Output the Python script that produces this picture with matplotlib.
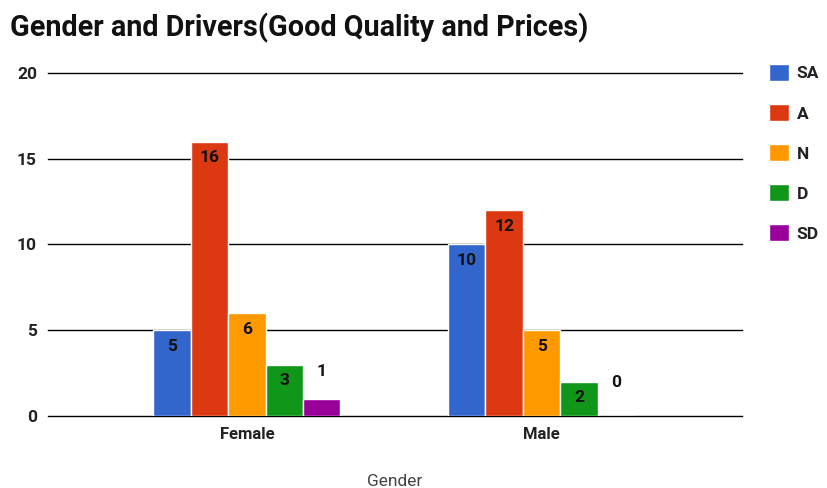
import matplotlib.pyplot as plt
import numpy as np

plt.rcParams['font.family'] = ['Roboto', 'DejaVu Sans']

# data
genders = ["Female", "Male"]
levels = ["SA", "A", "N", "D", "SD"]
sa = [5, 10]
a = [16, 12]
n = [6, 5]
d = [3, 2]
sd = [1, 0]
colors = ["#3366cc", "#dc3912", "#ff9900", "#109618", "#990099"]

series = [sa, a, n, d, sd]

fig = plt.figure(figsize=(8.27, 4.88), dpi=100)
ax = fig.add_axes([48 / 827, 72 / 488, 694 / 827, 343 / 488])

x = np.arange(len(genders))
width = 0.127
for i, (vals, col) in enumerate(zip(series, colors)):
    pos = x + (i - 2) * width
    bars = ax.bar(pos, vals, width, color=col, edgecolor="white",
                  linewidth=1, label=levels[i], zorder=3)
    for b, v in zip(bars, vals):
        cx = b.get_x() + b.get_width() / 2
        if v >= 2:
            off = -11.5
        else:
            # short bars get their label above the bar
            off = 24 - 4 * v
        ax.annotate(str(v), (cx, v), xytext=(0, off), textcoords="offset points",
                    ha="center", va="center", fontsize=12.5, fontweight="bold",
                    color="#111111", zorder=4)

ax.set_xlim(-0.675, 1.68)
ax.set_ylim(0, 20)
ax.set_yticks([0, 5, 10, 15, 20])
ax.yaxis.grid(True, color="black", linewidth=1)
ax.set_axisbelow(True)
for gl in ax.get_ygridlines():
    gl.set_clip_on(False)
for s in ax.spines.values():
    s.set_visible(False)
ax.tick_params(axis="both", length=0)
ax.tick_params(axis="y", pad=8, labelsize=12.5, labelcolor="#222222")
ax.tick_params(axis="x", pad=8, labelsize=12, labelcolor="#222222")
ax.set_xticks(x)
ax.set_xticklabels(genders, fontweight="bold")
for lbl in ax.get_yticklabels():
    lbl.set_fontweight("bold")

fig.text(10 / 827, 1 - 28 / 488, "Gender and Drivers(Good Quality and Prices)",
         fontsize=20.7, fontweight="bold", color="#111111", va="center", ha="left")
fig.text(395 / 827, 1 - 482 / 488, "Gender", fontsize=12.5, color="#444444",
         ha="center", va="center")

leg = fig.legend(loc="upper left", bbox_to_anchor=(769 / 827, 1 - 64 / 488),
                 frameon=False, borderpad=0, borderaxespad=0,
                 handlelength=1.15, handleheight=1.15,
                 handletextpad=0.45, labelspacing=1.3,
                 prop={"weight": "bold", "size": 12.5})
for t in leg.get_texts():
    t.set_color("#222222")

plt.savefig("out.png", dpi=100)
